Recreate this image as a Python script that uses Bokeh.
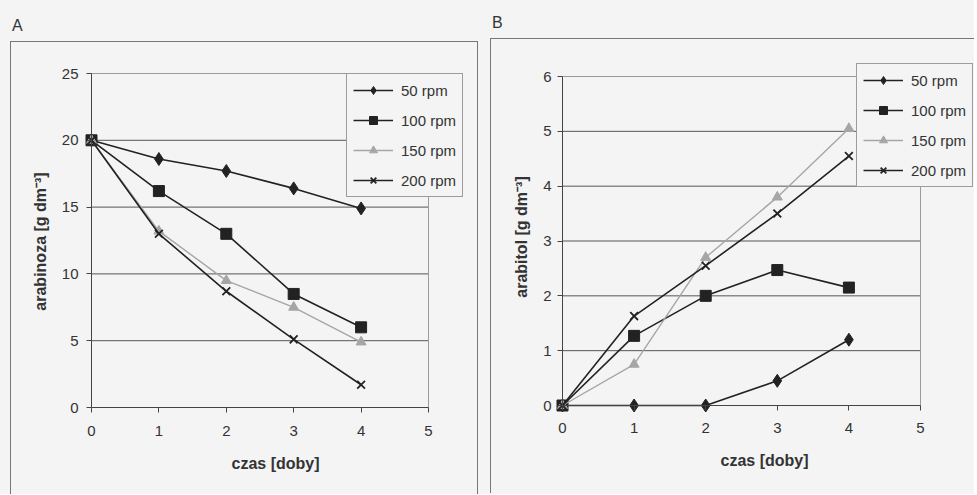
from bokeh.plotting import figure
from bokeh.layouts import row, column
from bokeh.models import (Div, Legend, LegendItem, FixedTicker, Range1d, LinearAxis,
                          CustomLabelingPolicy)
from bokeh.embed import file_html
from bokeh.resources import INLINE

# ---- data ----
days = [0, 1, 2, 3, 4]
series_names = ["50 rpm", "100 rpm", "150 rpm", "200 rpm"]

arabinoza_50 = [20, 18.6, 17.7, 16.4, 14.9]
arabinoza_100 = [20, 16.2, 13.0, 8.5, 6.0]
arabinoza_150 = [20, 13.2, 9.5, 7.5, 4.9]
arabinoza_200 = [20, 13.0, 8.7, 5.1, 1.7]

arabitol_50 = [0, 0, 0, 0.45, 1.2]
arabitol_100 = [0, 1.27, 2.0, 2.47, 2.15]
arabitol_150 = [0, 0.75, 2.7, 3.8, 5.05]
arabitol_200 = [0, 1.63, 2.55, 3.5, 4.55]

x_ticks = [0, 1, 2, 3, 4, 5]
yA_ticks = [0, 5, 10, 15, 20, 25]
yB_ticks = [0, 1, 2, 3, 4, 5, 6]
X_MAX = 5

# ---- styles ----
FONT = "Liberation Sans"
BG = "#f4f4f4"
TXT = "#333333"
AX = "#444444"
GRID = "#555555"
EDGE = "#9a9a9a"
styles = [
    dict(marker="diamond", size=13, color="#222222", lw=1.6),
    dict(marker="square", size=11, color="#222222", lw=1.6),
    dict(marker="triangle", size=10, color="#a6a6a6", lw=1.4),
    dict(marker="x", size=11, color="#222222", lw=1.6),
]


def style_label_axis(ax, standoff, title_standoff):
    ax.axis_line_color = None
    ax.major_tick_line_color = None
    ax.minor_tick_line_color = None
    ax.major_tick_out = 0
    ax.major_tick_in = 0
    ax.major_label_standoff = standoff
    ax.major_label_text_font = FONT
    ax.major_label_text_font_size = "15px"
    ax.major_label_text_color = TXT
    ax.axis_label_text_font = FONT
    ax.axis_label_text_font_size = "16px"
    ax.axis_label_text_font_style = "bold"
    ax.axis_label_text_color = TXT
    ax.axis_label_standoff = title_standoff


NO_LABELS = """
for (const i of indices) {
    indices.unset(i)
}
return indices
"""


def line_axis(ticks, bounds):
    """Axis line + tick marks drawn at the data zero (labels are on the edge axis)."""
    ax = LinearAxis(ticker=FixedTicker(ticks=ticks), bounds=bounds, fixed_location=0,
                    axis_line_color=AX, major_tick_line_color=AX,
                    minor_tick_line_color=None, major_tick_in=5, major_tick_out=0,
                    major_label_text_font_size="1px", major_label_standoff=0,
                    major_label_policy=CustomLabelingPolicy(code=NO_LABELS),
                    axis_label=None)
    return ax


def make_panel(series, y_max, y_ticks, y_title, width, height,
               mb_left, mb_right, mb_top, mb_bottom, xr, yr, legend_loc, border_css,
               x_lab_standoff, y_lab_standoff):
    p = figure(width=width, height=height, output_backend="svg",
               toolbar_location=None,
               x_range=Range1d(*xr), y_range=Range1d(*yr),
               min_border_left=mb_left, min_border_right=mb_right,
               min_border_top=mb_top, min_border_bottom=mb_bottom,
               background_fill_color=BG, border_fill_color=BG,
               styles=border_css)
    p.outline_line_color = None
    p.xgrid.visible = False
    p.ygrid.visible = False

    # horizontal gridlines from x=0 to x=5, and the light plot-area border
    inner = y_ticks[1:-1]
    p.segment(x0=[0] * len(inner), x1=[X_MAX] * len(inner), y0=inner, y1=inner,
              line_color=GRID, line_width=1)
    p.segment(x0=[0, X_MAX], x1=[X_MAX, X_MAX], y0=[y_max, 0], y1=[y_max, y_max],
              line_color=EDGE, line_width=1)

    # labelled axes at the frame edges (no line / ticks)
    p.xaxis.ticker = FixedTicker(ticks=x_ticks)
    p.yaxis.ticker = FixedTicker(ticks=y_ticks)
    style_label_axis(p.xaxis[0], x_lab_standoff, 16)
    style_label_axis(p.yaxis[0], y_lab_standoff, 10)
    p.xaxis.axis_label = "czas [doby]"
    p.yaxis.axis_label = y_title

    # axis lines + ticks at the data origin
    p.add_layout(line_axis(y_ticks, (0, y_max)), "right")
    p.add_layout(line_axis(x_ticks, (0, X_MAX)), "above")

    items = []
    for name, ys, st in zip(series_names, series, styles):
        lr = p.line(days, ys, line_color=st["color"], line_width=st["lw"])
        if st["marker"] == "x":
            sr = p.scatter(days, ys, marker="x", size=st["size"],
                           line_color=st["color"], line_width=1.8)
        else:
            sr = p.scatter(days, ys, marker=st["marker"], size=st["size"],
                           fill_color=st["color"], line_color=st["color"])
        items.append(LegendItem(label=name, renderers=[lr, sr]))

    leg = Legend(items=items, location=legend_loc)
    leg.label_text_font = FONT
    leg.label_text_font_size = "15px"
    leg.label_text_color = TXT
    leg.glyph_width = 40
    leg.glyph_height = 20
    leg.label_height = 20
    leg.spacing = 10
    leg.padding = 6
    leg.margin = 0
    leg.label_standoff = 8
    leg.border_line_color = "#444444"
    leg.background_fill_color = BG
    leg.background_fill_alpha = 1.0
    p.add_layout(leg)
    return p


def span_range(lo_px, hi_px, v0_px, v1_px, v1):
    """Data range for a frame from lo_px to hi_px, where 0 sits at v0_px and v1 at v1_px."""
    k = v1 / (v1_px - v0_px)
    return ((lo_px - v0_px) * k, (hi_px - v0_px) * k)


# panel A: frame x 80..470 (0 at 91, 5 at 428); y 66..414 (0 at 406, 25 at 72)
xrA = span_range(80, 470, 91, 428, X_MAX)
yrA = span_range(414, 66, 406, 72, 25)
# panel B: frame x 556..976 (0 at 564, 5 at 922); y 60..413 (0 at 405, 6 at 76)
xrB = span_range(556, 976, 564, 922, X_MAX)
yrB = span_range(413, 60, 405, 76, 6)

border_A = {"border-top": "1px solid #777777", "border-left": "1px solid #777777",
            "border-right": "1px solid #777777"}
border_B = {"border-top": "1px solid #777777", "border-left": "1px solid #777777"}

pA = make_panel([arabinoza_50, arabinoza_100, arabinoza_150, arabinoza_200],
                25, yA_ticks, "arabinoza [g dm\u207b\u00b3]",
                468, 453, 69, 9, 25, 80, xrA, yrA, (266, 218), border_A,
                10, 2)
pB = make_panel([arabitol_50, arabitol_100, arabitol_150, arabitol_200],
                6, yB_ticks, "arabitol [g dm\u207b\u00b3]",
                484, 455, 63, 1, 21, 81, xrB, yrB, (302, 226), border_B,
                9, 3)

label_css = {"font-family": FONT, "font-size": "16px", "color": TXT}
divA = Div(text="A", width=100, height=26, styles=label_css, margin=(15, 0, 0, 12))
divB = Div(text="B", width=100, height=26, styles=label_css, margin=(12, 0, 0, 14))
pA.margin = (0, 0, 0, 10)
pB.margin = (0, 0, 0, 12)

colA = column(divA, pA, spacing=0)
colB = column(divB, pB, spacing=0)
layout = row(colA, colB, spacing=0, styles={"background-color": BG})

open("out.html", "w").write(file_html(layout, INLINE))
